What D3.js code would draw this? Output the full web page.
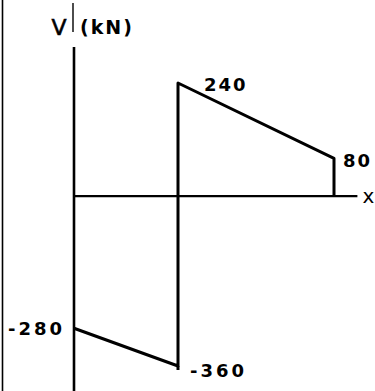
<!DOCTYPE html>
<html>
<head>
<meta charset="utf-8">
<script src="https://cdn.jsdelivr.net/npm/d3@7"></script>
<style>
  html, body { margin: 0; padding: 0; background: #fff; }
  svg { display: block; }
  text { font-family: "DejaVu Sans", sans-serif; fill: #000; }
</style>
</head>
<body>
<svg id="chart" width="375" height="391"></svg>
<script>
// Shear force diagram, positions in m, shear in kN
const positions = [0, 2, 2, 5, 5];
const shear = [-280, -360, 240, 80, 0];
const labelPoints = [0, 1, 2, 3];      // indices of points carrying a value label
const axisLabelY = "V";
const axisUnit = "(kN)";
const axisLabelX = "x";

const W = 375, H = 391;
const svg = d3.select("#chart");

const x = d3.scaleLinear().domain([0, 5]).range([74, 334]);
const y = d3.scaleLinear().domain([240, -360]).range([83, 366]);

// frame line on the left edge
svg.append("line")
  .attr("x1", 2.5).attr("x2", 2.5).attr("y1", 0).attr("y2", H)
  .attr("stroke", "#000").attr("stroke-width", 1.6);

// vertical (V) axis
svg.append("line")
  .attr("x1", x(0)).attr("x2", x(0))
  .attr("y1", 47).attr("y2", H)
  .attr("stroke", "#000").attr("stroke-width", 2.6);

// short mark between V and the unit
svg.append("line")
  .attr("x1", x(0) - 1).attr("x2", x(0) - 1)
  .attr("y1", 3).attr("y2", 32)
  .attr("stroke", "#000").attr("stroke-width", 1.4);

// horizontal (x) axis
svg.append("line")
  .attr("x1", x(0)).attr("x2", x(5.45))
  .attr("y1", y(0)).attr("y2", y(0))
  .attr("stroke", "#000").attr("stroke-width", 2.2);

// shear diagram
const pts = positions.map((p, i) => [x(p), y(shear[i])]);
svg.append("path")
  .attr("d", d3.line()(pts))
  .attr("fill", "none")
  .attr("stroke", "#000")
  .attr("stroke-width", 3)
  .attr("stroke-linejoin", "round");

// the step at x = 2 overshoots slightly below the lowest point
svg.append("line")
  .attr("x1", x(2)).attr("x2", x(2))
  .attr("y1", y(-360)).attr("y2", y(-360) + 4)
  .attr("stroke", "#000").attr("stroke-width", 3);

// axis titles
svg.append("text")
  .attr("x", 59).attr("y", 35)
  .attr("text-anchor", "middle")
  .attr("font-size", 22)
  .attr("stroke", "#000").attr("stroke-width", 0.6)
  .text(axisLabelY);
svg.append("text")
  .attr("x", 80).attr("y", 34)
  .attr("font-size", 19).attr("font-weight", "bold")
  .attr("letter-spacing", 2)
  .text(axisUnit);
svg.append("text")
  .attr("x", x(5.45) + 5).attr("y", y(0) + 7)
  .attr("font-size", 20)
  .text(axisLabelX);

// value labels (all left-anchored, offset from their point)
const offsets = [
  { dx: -66, dy: 7 },
  { dx: 12, dy: 11 },
  { dx: 26, dy: 8 },
  { dx: 9, dy: 9 }
];
labelPoints.forEach((idx, k) => {
  const o = offsets[k];
  const v = shear[idx];
  svg.append("text")
    .attr("x", pts[idx][0] + o.dx)
    .attr("y", pts[idx][1] + o.dy)
    .attr("font-size", 18).attr("font-weight", "bold")
    .attr("letter-spacing", v < 0 ? 3 : 2)
    .text(String(v));
});
</script>
</body>
</html>
